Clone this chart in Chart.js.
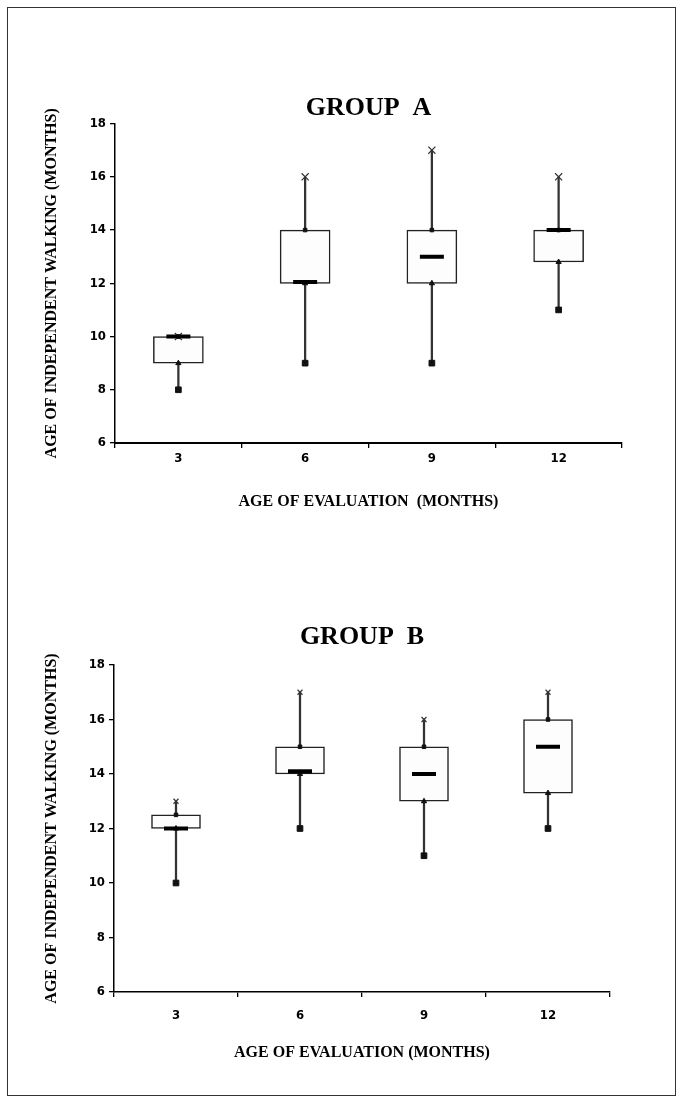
<!DOCTYPE html>
<html>
<head>
<meta charset="utf-8">
<script src="https://cdn.jsdelivr.net/npm/chart.js@4/dist/chart.umd.min.js"></script>
<style>
  body { margin: 0; background: #fff; width: 685px; height: 1105px; position: relative; overflow: hidden; }
  .frame { position: absolute; left: 7px; top: 7px; width: 667px; height: 1087px; border: 1.5px solid #333; }
  .box { position: absolute; left: 0; width: 685px; }
  #boxA { top: 0; height: 530px; }
  #boxB { top: 530px; height: 575px; }
</style>
</head>
<body>
<div class="frame"></div>
<div class="box" id="boxA"><canvas id="chartA"></canvas></div>
<div class="box" id="boxB"><canvas id="chartB"></canvas></div>
<script>
// dados (idade de marcha independente, meses)
const categories = ["3", "6", "9", "12"];
const yTicks = [6, 8, 10, 12, 14, 16, 18];

const groupA_min = [8, 9, 9, 11];
const groupA_q1 = [9, 12, 12, 12.8];
const groupA_median = [10, 12.05, 13, 14];
const groupA_q3 = [10, 14, 14, 14];
const groupA_max = [10, 16, 17, 16];

const groupB_min = [10, 12, 11, 12];
const groupB_q1 = [12, 14, 13, 13.3];
const groupB_median = [12, 14.1, 14, 15];
const groupB_q3 = [12.5, 15, 15, 16];
const groupB_max = [13, 17, 16, 17];

const serif = "'Liberation Serif', 'Times New Roman', serif";
const narrow = "'Liberation Sans Narrow', 'DejaVu Sans Condensed', sans-serif";

function pontos(dados, estilo, raio, ordem) {
  return {
    type: "line",
    data: dados,
    showLine: false,
    pointStyle: estilo,
    pointRadius: raio,
    pointBackgroundColor: "#111",
    pointBorderColor: estilo === "crossRot" ? "#333" : "#111",
    pointBorderWidth: estilo === "crossRot" ? 1.2 : 1,
    order: ordem
  };
}

function desenharBoxplot(id, titulo, tituloX, min, q1, med, q3, max, cfg) {
  const ctx = document.getElementById(id).getContext("2d");
  return new Chart(ctx, {
    type: "bar",
    data: {
      labels: categories,
      datasets: [
        { // bigodes
          data: min.map((v, i) => [v, max[i]]),
          backgroundColor: "#333",
          barThickness: 1.6,
          grouped: false,
          order: 5
        },
        { // caixas
          data: q1.map((v, i) => [v, q3[i]]),
          backgroundColor: "#fdfdfd",
          borderColor: "#222",
          borderWidth: 1.5,
          borderSkipped: false,
          barThickness: cfg.boxWidth,
          grouped: false,
          order: 4
        },
        pontos(min, "rect", 4, 3),
        pontos(q1, "triangle", 3, 2),
        pontos(q3, "rect", 2.5, 2),
        pontos(max, "crossRot", cfg.maxSize, 1),
        {
          type: "line",
          data: med,
          showLine: false,
          pointStyle: "line",
          pointRadius: 12,
          pointBorderWidth: 4,
          pointBorderColor: "#000",
          order: 0
        }
      ]
    },
    options: {
      responsive: true,
      maintainAspectRatio: false,
      animation: false,
      layout: { padding: { left: 0, right: cfg.padRight, top: 0, bottom: 0 } },
      plugins: {
        legend: { display: false },
        tooltip: { enabled: false },
        title: {
          display: true,
          fullSize: false,
          text: titulo,
          color: "#000",
          font: { family: serif, size: 26, weight: "bold" },
          padding: { top: cfg.titleTop, bottom: cfg.titleBottom }
        }
      },
      scales: {
        x: {
          afterFit: s => { s.height = cfg.xHeight; },
          border: { display: true, color: "#000", width: cfg.xBorder },
          grid: { display: true, drawOnChartArea: false, offset: true, tickLength: 5, color: "#000", lineWidth: 1.3 },
          ticks: { color: "#000", padding: cfg.xTickPad, font: { family: narrow, size: 13, weight: "bold" } },
          title: {
            display: true,
            text: tituloX,
            color: "#000",
            font: { family: serif, size: 16, weight: "bold" },
            padding: { top: 0, bottom: cfg.xTitlePad }
          }
        },
        y: {
          min: 6,
          max: 18,
          afterFit: s => { s.width = cfg.yWidth; },
          afterBuildTicks: s => { s.ticks = yTicks.map(v => ({ value: v })); },
          border: { display: true, color: "#000", width: 1.5 },
          grid: { display: true, drawOnChartArea: false, tickLength: 5, color: "#000", lineWidth: 1.3 },
          ticks: { color: "#000", padding: 4, font: { family: narrow, size: 13, weight: "bold" } },
          title: {
            display: true,
            text: "AGE OF INDEPENDENT WALKING (MONTHS)",
            color: "#000",
            font: { family: serif, size: 16, weight: "bold" },
            padding: { top: 42.4, bottom: 0 }
          }
        }
      }
    }
  });
}

desenharBoxplot("chartA", "GROUP  A", "AGE OF EVALUATION  (MONTHS)",
  groupA_min, groupA_q1, groupA_median, groupA_q3, groupA_max,
  { boxWidth: 50, padRight: 63, titleTop: 92.4, titleBottom: 0, xHeight: 87, xTickPad: 3, xTitlePad: 18.4, xBorder: 2, yWidth: 115, maxSize: 5 });

desenharBoxplot("chartB", "GROUP  B", "AGE OF EVALUATION (MONTHS)",
  groupB_min, groupB_q1, groupB_median, groupB_q3, groupB_max,
  { boxWidth: 49, padRight: 75, titleTop: 91.4, titleBottom: 12.4, xHeight: 113, xTickPad: 11, xTitlePad: 42.4, xBorder: 1.5, yWidth: 114, maxSize: 3.5 });
</script>
</body>
</html>
